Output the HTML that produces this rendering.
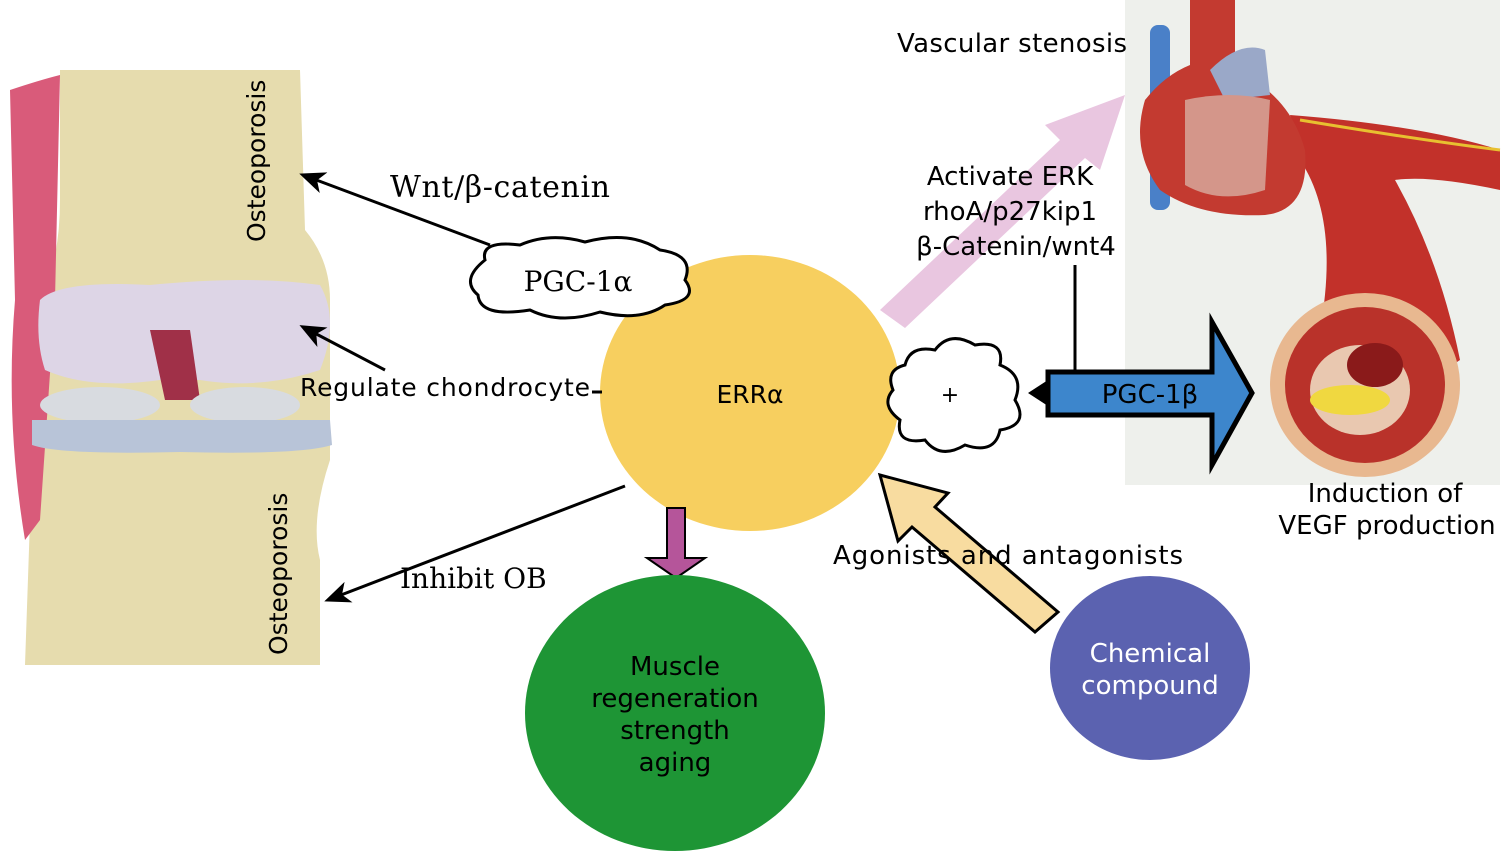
<!DOCTYPE html>
<html><head><meta charset="utf-8"><style>
body{margin:0;background:#fff}
svg{display:block}
.s{font-family:"DejaVu Sans","Liberation Sans",sans-serif}
.r{font-family:"DejaVu Serif","Liberation Serif",serif}
</style></head><body>
<svg width="1505" height="855" viewBox="0 0 1505 855" xmlns="http://www.w3.org/2000/svg">
<defs>
<marker id="ah" markerWidth="26" markerHeight="22" refX="22" refY="11" orient="auto" markerUnits="userSpaceOnUse" viewBox="0 0 26 22"><path d="M0,0 L26,11 L0,22 L7,11z" fill="#000"/></marker>
</defs>
<!-- knee -->
<path d="M60,70 L300,70 L305,230 Q330,260 330,300 L330,460 Q310,520 320,560 L320,665 L25,665 L30,520 Q10,480 40,440 L40,300 Q60,260 60,200z" fill="#e6dcae"/>
<path d="M10,90 Q40,80 60,75 L55,300 L40,520 L25,540 Q5,420 15,300z" fill="#d95b7a"/>
<path d="M40,300 Q60,280 150,285 Q250,275 320,285 Q340,320 320,370 Q260,390 200,380 L160,380 Q90,390 45,370 Q35,340 40,300z" fill="#ddd5e6"/>
<path d="M150,330 L190,330 L200,400 L165,400z" fill="#a03048"/>
<ellipse cx="100" cy="405" rx="60" ry="18" fill="#d8dbe0"/>
<ellipse cx="245" cy="405" rx="55" ry="18" fill="#d8dbe0"/>
<path d="M32,420 L330,420 L332,445 Q300,455 180,452 Q60,455 32,445z" fill="#b8c4d8"/>
<text class="s" font-size="25" transform="translate(265,242) rotate(-90)">Osteoporosis</text>
<text class="s" font-size="25" transform="translate(287,655) rotate(-90)">Osteoporosis</text>
<!-- heart image area -->
<rect x="1125" y="0" width="375" height="485" fill="#eef0ec"/>
<path d="M1290,115 Q1420,125 1500,150 L1500,190 Q1430,175 1395,180 Q1440,260 1460,360 L1400,400 L1320,330 Q1340,220 1300,160z" fill="#c2312a"/>
<path d="M1300,120 Q1420,140 1500,150" stroke="#e8c030" stroke-width="3" fill="none"/>
<rect x="1150" y="25" width="20" height="185" rx="8" fill="#4a80c8"/>
<path d="M1190,0 L1235,0 L1235,70 Q1290,95 1305,150 Q1310,210 1265,215 Q1200,218 1160,190 Q1130,150 1145,100 Q1165,75 1190,65z" fill="#c33a30"/>
<path d="M1210,70 Q1240,40 1265,50 L1270,95 L1225,100z" fill="#9aa8c8"/>
<path d="M1185,100 Q1230,90 1270,100 L1265,190 Q1220,205 1185,185z" fill="#d4968a"/>
<ellipse cx="1365" cy="385" rx="95" ry="92" fill="#e8b890"/>
<ellipse cx="1365" cy="385" rx="80" ry="78" fill="#b9322a"/>
<ellipse cx="1360" cy="390" rx="50" ry="45" fill="#e9c8b0"/>
<ellipse cx="1350" cy="400" rx="40" ry="15" fill="#f0d840"/>
<ellipse cx="1375" cy="365" rx="28" ry="22" fill="#8a1a1a"/>
<!-- arrows left -->
<line x1="490" y1="245" x2="303" y2="175" stroke="#000" stroke-width="3" marker-end="url(#ah)"/>
<line x1="385" y1="370" x2="303" y2="327" stroke="#000" stroke-width="3" marker-end="url(#ah)"/>
<line x1="625" y1="486" x2="328" y2="600" stroke="#000" stroke-width="3" marker-end="url(#ah)"/>
<text class="r" font-size="30" x="390" y="197" textLength="220">Wnt/β-catenin</text>
<!-- pink arrow -->
<polygon points="880,310 1060,140 1045,125 1125,95 1100,170 1085,158 905,328" fill="#e9c6e0"/>
<!-- ERR circle -->
<ellipse cx="750" cy="393" rx="150" ry="138" fill="#f7cf5f"/>
<text class="s" font-size="25" x="750" y="403" text-anchor="middle">ERRα</text>
<path d="M485,260 Q480,240 520,245 Q550,232 585,242 Q630,230 660,250 Q695,255 685,280 Q700,300 665,305 Q640,322 600,312 Q560,325 530,310 Q480,318 478,295 Q460,280 485,260z" fill="#fff" stroke="#000" stroke-width="3"/>
<text class="r" font-size="28" x="578" y="291" text-anchor="middle">PGC-1α</text>
<text class="s" font-size="25" x="300" y="396" textLength="290">Regulate chondrocyte</text>
<line x1="592" y1="392" x2="602" y2="392" stroke="#000" stroke-width="3"/>
<text class="r" font-size="28" x="400" y="588">Inhibit OB</text>
<!-- purple arrow -->
<polygon points="667,508 685,508 685,558 705,558 676,578 647,558 667,558" fill="#b5559a" stroke="#000" stroke-width="2"/>
<ellipse cx="675" cy="713" rx="150" ry="138" fill="#1e9535"/>
<text class="s" font-size="26" text-anchor="middle"><tspan x="675" y="675">Muscle</tspan><tspan x="675" y="707">regeneration</tspan><tspan x="675" y="739">strength</tspan><tspan x="675" y="771">aging</tspan></text>
<!-- texts -->
<text class="s" font-size="26" x="897" y="52" textLength="230">Vascular stenosis</text>
<text class="s" font-size="26" text-anchor="middle"><tspan x="1010" y="185">Activate ERK</tspan><tspan x="1010" y="220">rhoA/p27kip1</tspan><tspan x="1016" y="255">β-Catenin/wnt4</tspan></text>
<line x1="1075" y1="265" x2="1075" y2="372" stroke="#000" stroke-width="3"/>
<!-- cloud plus -->
<path d="M905,365 Q910,345 935,350 Q950,330 975,345 Q1005,340 1000,365 Q1025,375 1015,400 Q1030,425 1000,430 Q995,455 965,445 Q940,460 925,440 Q895,445 900,420 Q880,405 893,390 Q885,370 905,365z" fill="#fff" stroke="#000" stroke-width="3"/>
<text class="s" font-size="22" x="950" y="402" text-anchor="middle">+</text>
<!-- blue arrow -->
<polygon points="1048,372 1212,372 1212,322 1252,393 1212,465 1212,415 1048,415" fill="#3d86cc" stroke="#000" stroke-width="5"/>
<polygon points="1048,380 1028,393 1048,406" fill="#000"/>
<text class="s" font-size="26" x="1150" y="403" text-anchor="middle">PGC-1β</text>
<text class="s" font-size="26" text-anchor="middle"><tspan x="1385" y="502">Induction of</tspan><tspan x="1387" y="534">VEGF production</tspan></text>
<!-- yellow arrow -->
<polygon points="1058,612 935,507 948,493 880,475 898,541 912,527 1035,632" fill="#f8dca0" stroke="#000" stroke-width="3"/>
<text class="s" font-size="26" x="833" y="564" textLength="350">Agonists and antagonists</text>
<ellipse cx="1150" cy="668" rx="100" ry="92" fill="#5b62b0"/>
<text class="s" font-size="26" fill="#fff" text-anchor="middle"><tspan x="1150" y="662">Chemical</tspan><tspan x="1150" y="694">compound</tspan></text>
</svg>
</body></html>
